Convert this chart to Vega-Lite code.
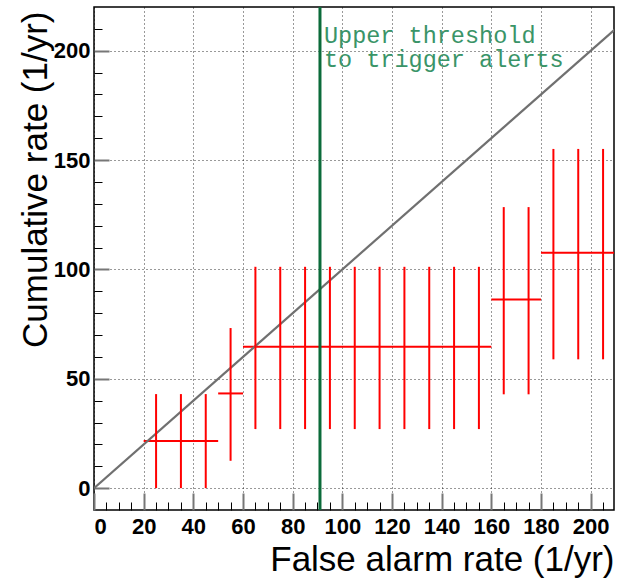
{
  "$schema": "https://vega.github.io/schema/vega-lite/v6.json",
  "width": 520,
  "height": 503,
  "autosize": {"type": "none"},
  "padding": {"left": 94, "top": 7, "right": 7, "bottom": 68},
  "background": "white",
  "config": {
    "view": {"stroke": "#000", "strokeWidth": 1.5},
    "axis": {"domain": false}
  },
  "datasets": {
    "diag": [{"x": 0, "y": 0}, {"x": 210, "y": 210}],
    "hbars": [
      {"x1": 20, "x2": 50, "y": 21.6},
      {"x1": 50, "x2": 60, "y": 43.3},
      {"x1": 60, "x2": 160, "y": 64.6},
      {"x1": 160, "x2": 180, "y": 86.3},
      {"x1": 180, "x2": 210, "y": 107.6}
    ],
    "vbars": [
      {"x": 25, "lo": 0, "hi": 43},
      {"x": 35, "lo": 0, "hi": 43},
      {"x": 45, "lo": 0, "hi": 43},
      {"x": 55, "lo": 12.5, "hi": 73.2},
      {"x": 65, "lo": 27, "hi": 101.2},
      {"x": 75, "lo": 27, "hi": 101.2},
      {"x": 85, "lo": 27, "hi": 101.2},
      {"x": 95, "lo": 27, "hi": 101.2},
      {"x": 105, "lo": 27, "hi": 101.2},
      {"x": 115, "lo": 27, "hi": 101.2},
      {"x": 125, "lo": 27, "hi": 101.2},
      {"x": 135, "lo": 27, "hi": 101.2},
      {"x": 145, "lo": 27, "hi": 101.2},
      {"x": 155, "lo": 27, "hi": 101.2},
      {"x": 165, "lo": 42.9, "hi": 128.5},
      {"x": 175, "lo": 42.9, "hi": 128.5},
      {"x": 185, "lo": 58.9, "hi": 155.1},
      {"x": 195, "lo": 58.9, "hi": 155.1},
      {"x": 205, "lo": 58.9, "hi": 155.1}
    ],
    "threshold": [{"x": 91}],
    "note": [
      {"x": 92.6, "y": 206.6, "text": "Upper threshold\nto trigger alerts"}
    ]
  },
  "resolve": {"axis": {"x": "independent", "y": "independent"}},
  "layer": [
    {
      "data": {"name": "hbars"},
      "mark": {"type": "rule", "color": "#ff0000", "strokeWidth": 2, "clip": true},
      "encoding": {
        "x": {"field": "x1", "type": "quantitative", "scale": {"domain": [0, 209.4], "nice": false, "zero": false},
          "axis": {"orient": "bottom", "values": [5,10,15,20,25,30,35,40,45,50,55,60,65,70,75,80,85,90,95,100,105,110,115,120,125,130,135,140,145,150,155,160,165,170,175,180,185,190,195,200,205], "labels": false, "grid": false, "tickSize": -8, "tickColor": "#000", "tickWidth": 1, "title": null}},
        "x2": {"field": "x2"},
        "y": {"field": "y", "type": "quantitative", "scale": {"domain": [-10, 220], "nice": false, "zero": false},
          "axis": {"orient": "left", "values": [10,20,30,40,50,60,70,80,90,100,110,120,130,140,150,160,170,180,190,200,210], "labels": false, "grid": false, "tickSize": -8, "tickColor": "#000", "tickWidth": 1, "title": null}}
      }
    },
    {
      "data": {"name": "diag"},
      "mark": {"type": "line", "color": "#707070", "strokeWidth": 2.2, "clip": true},
      "encoding": {
        "x": {"field": "x", "type": "quantitative",
          "axis": {"orient": "bottom", "values": [0,20,40,60,80,100,120,140,160,180,200], "grid": true, "gridColor": "#000", "gridDash": [1, 3], "gridWidth": 1, "gridOpacity": 0.8,
            "tickSize": -17, "tickColor": "#777", "tickWidth": 2, "labelPadding": 23, "labelFont": "Liberation Sans", "labelFontWeight": "bold", "labelFontSize": 22, "labelColor": "#000",
            "title": "False alarm rate (1/yr)", "titleFont": "Liberation Sans", "titleFontSize": 35, "titleFontWeight": "normal", "titleColor": "#000",
            "titleAnchor": "end", "titleAlign": "right", "titleX": 520, "titleY": 60, "titleBaseline": "alphabetic"}},
        "y": {"field": "y", "type": "quantitative",
          "axis": {"orient": "left", "values": [0,50,100,150,200], "grid": true, "gridColor": "#000", "gridDash": [1, 3], "gridWidth": 1, "gridOpacity": 0.8,
            "tickSize": -15, "tickColor": "#777", "tickWidth": 2, "labelPadding": 19, "labelFont": "Liberation Sans", "labelFontWeight": "bold", "labelFontSize": 22, "labelColor": "#000",
            "title": "Cumulative rate (1/yr)", "titleFont": "Liberation Sans", "titleFontSize": 35, "titleFontWeight": "normal", "titleColor": "#000",
            "titleAnchor": "end", "titleAngle": -90, "titleAlign": "right", "titleX": -48, "titleY": 4, "titleBaseline": "alphabetic"}}
      }
    },
    {
      "data": {"name": "vbars"},
      "mark": {"type": "rule", "color": "#ff0000", "strokeWidth": 2, "clip": true},
      "encoding": {
        "x": {"field": "x", "type": "quantitative", "axis": null},
        "y": {"field": "lo", "type": "quantitative", "axis": null},
        "y2": {"field": "hi"}
      }
    },
    {
      "data": {"name": "threshold"},
      "mark": {"type": "rule", "color": "#0b6b3a", "strokeWidth": 3},
      "encoding": {
        "x": {"field": "x", "type": "quantitative", "axis": null}
      }
    },
    {
      "data": {"name": "note"},
      "mark": {"type": "text", "font": "Liberation Mono", "fontSize": 23.5, "lineBreak": "\n", "lineHeight": 23.5, "align": "left", "baseline": "middle", "color": "#3a9468"},
      "encoding": {
        "x": {"field": "x", "type": "quantitative", "axis": null},
        "y": {"field": "y", "type": "quantitative", "axis": null},
        "text": {"field": "text"}
      }
    }
  ]
}
